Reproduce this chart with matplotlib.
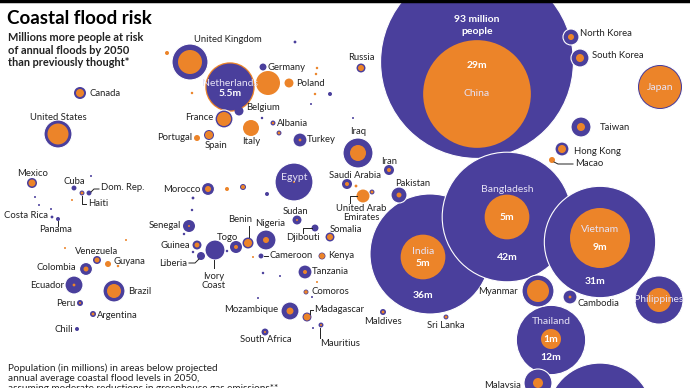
import matplotlib.pyplot as plt
from matplotlib.patches import Circle
import numpy as np

plt.rcParams['font.family'] = ['Lato', 'DejaVu Sans']

PURPLE = '#4a3f9c'
ORANGE = '#ec8429'
TEXT = '#222222'

# bubble layout (cartogram position in px) and values in millions of people
countries = ['China', 'India', 'Bangladesh', 'Vietnam', 'Thailand', 'Myanmar', 'Cambodia',
             'Philippines', 'Malaysia', 'Indonesia', 'Japan', 'North Korea', 'South Korea',
             'Taiwan', 'Hong Kong', 'Macao', 'Maldives', 'Sri Lanka',
             'United Kingdom', 'Netherlands', 'France', 'Germany', '', 'Poland', 'Belgium',
             'Albania', 'Italy', 'Portugal', 'Spain', 'Turkey', 'Russia', 'Canada',
             'United States', '', '', '', '', '', '', '', '', '', '', '',
             'Iraq', 'Egypt', 'Sudan', 'Saudi Arabia', '', 'UAE', '', 'Iran', 'Pakistan',
             'Somalia', 'Djibouti', 'Kenya', 'Cameroon', '', 'Tanzania', '', '', '', '', '',
             '', 'Comoros', 'Mozambique', 'Madagascar', 'Mauritius', 'South Africa',
             'Morocco', '', '', '', '', '', 'Senegal', '', 'Guinea', 'Ivory Coast', 'Liberia',
             '', 'Togo', 'Benin', 'Nigeria', '',
             'Mexico', 'Cuba', 'Haiti', 'Dom. Rep.', '', '', '', '', '', '', '',
             'Costa Rica', 'Panama', 'Venezuela', 'Guyana', '', 'Colombia', 'Ecuador',
             'Brazil', 'Peru', 'Argentina', 'Chili']
pos_x = [477, 430, 507, 600, 551, 538, 570,
         659, 538, 600, 660, 571, 580,
         581, 562, 552, 383, 446,
         190, 230, 224, 263, 268, 289, 239,
         273, 251, 197, 209, 300, 361, 80,
         58, 167, 192, 295, 317, 316, 315, 330, 311, 353, 262, 279,
         358, 294, 297, 347, 356, 363, 372, 389, 399,
         330, 315, 322, 261, 253, 305, 263, 280, 317, 258, 313,
         312, 306, 290, 307, 321, 265,
         208, 227, 243, 267, 193, 192, 189, 184, 197, 215, 201,
         193, 236, 248, 266, 227,
         32, 74, 82, 89, 91, 35, 39, 51, 72, 126, 65,
         52, 58, 97, 108, 118, 86, 74,
         114, 80, 93, 77]
pos_y = [62, 254, 217, 242, 340, 291, 297,
         300, 383, 416, 87, 37, 58,
         127, 149, 160, 312, 317,
         62, 87, 119, 67, 83, 83, 111,
         123, 128, 138, 135, 140, 68, 93,
         134, 53, 93, 42, 68, 74, 94, 94, 104, 118, 118, 133,
         153, 182, 220, 184, 186, 196, 192, 170, 195,
         237, 228, 256, 256, 257, 272, 273, 276, 282, 298, 328,
         297, 292, 311, 317, 325, 332,
         189, 189, 187, 194, 198, 210, 226, 234, 245, 250, 256,
         252, 247, 243, 240, 251,
         183, 188, 193, 193, 176, 197, 205, 209, 200, 240, 248,
         217, 219, 260, 264, 266, 269, 285,
         291, 303, 314, 329]
# total population at risk (new estimate, purple)
pop_new = [93, 36, 42, 31, 12, 2.56, 0.49,
           5.8, 1.96, 28, 5.1, 0.64, 0.81,
           1.0, 0.49, 0, 0.09, 0.06,
           3.24, 5.5, 0.81, 0.12, 0, 0, 0.2,
           0.06, 0, 0, 0.25, 0.49, 0.2, 0.36,
           1.96, 0, 0, 0.02, 0, 0, 0, 0.04, 0.01, 0.01, 0.015, 0.06,
           2.25, 3.6, 0.2, 0.25, 0, 0, 0.06, 0.25, 0.64,
           0.2, 0.12, 0.12, 0.06, 0, 0.49, 0.015, 0.01, 0, 0.01, 0.01,
           0.01, 0.06, 0.81, 0.2, 0.06, 0.12,
           0.42, 0, 0.09, 0.04, 0.02, 0.015, 0.36, 0.015, 0.2, 1.0, 0.16,
           0.015, 0.36, 0.3, 1.0, 0.015,
           0.25, 0.06, 0.06, 0.06, 0.01, 0.01, 0.01, 0.01, 0, 0, 0,
           0.02, 0.04, 0.16, 0, 0, 0.42, 0.81,
           1.21, 0.09, 0.09, 0.04]
# earlier estimate (orange)
pop_old = [29, 5, 5, 9, 1, 1.21, 0.02,
           1.44, 0.25, 5, 4.4, 0.09, 0.16,
           0.16, 0.16, 0.09, 0.02, 0.02,
           1.44, 6.1, 0.49, 0, 1.44, 0.2, 0,
           0.015, 0.64, 0.09, 0.16, 0.02, 0.09, 0.16,
           1.1, 0.04, 0.015, 0, 0.015, 0.015, 0.015, 0, 0, 0, 0, 0.02,
           0.64, 0.01, 0.01, 0.04, 0.02, 0.42, 0.02, 0.04, 0.06,
           0.09, 0, 0.08, 0, 0.01, 0.04, 0, 0, 0.01, 0, 0,
           0, 0.03, 0.12, 0.12, 0.01, 0.01,
           0.09, 0.04, 0.04, 0, 0, 0, 0.01, 0, 0.06, 0, 0,
           0, 0.04, 0.16, 0.09, 0,
           0.12, 0, 0.02, 0, 0, 0, 0, 0, 0.01, 0.01, 0.01,
           0, 0, 0.06, 0.09, 0.015, 0.06, 0.02,
           0.49, 0.01, 0.02, 0]
# orange circle shifted inside the big bubbles
old_shift = {'China': (0, 32), 'India': (-7, 3), 'Vietnam': (0, -4), 'Thailand': (0, -1)}

SCALE = 10.0  # px per sqrt(million)

labels = [('United Kingdom', 228, 40, 'center'), ('Germany', 268, 67, 'left'),
          ('Poland', 296, 83, 'left'), ('Russia', 361, 58, 'center'),
          ('Canada', 89, 93, 'left'), ('United States', 58, 117, 'center'),
          ('France', 213, 117, 'right'), ('Belgium', 246, 108, 'left'),
          ('Albania', 277, 123, 'left'), ('Portugal', 192, 138, 'right'),
          ('Spain', 216, 145, 'center'), ('Italy', 251, 142, 'center'),
          ('Turkey', 307, 139, 'left'), ('Iraq', 358, 131, 'center'),
          ('Iran', 389, 162, 'center'), ('Saudi Arabia', 355, 176, 'center'),
          ('Pakistan', 413, 183, 'center'), ('United Arab\nEmirates', 361, 213, 'center'),
          ('Sudan', 295, 211, 'center'), ('Somalia', 346, 229, 'center'),
          ('Djibouti', 303, 238, 'center'), ('Kenya', 328, 256, 'left'),
          ('Cameroon', 270, 256, 'left'), ('Tanzania', 312, 272, 'left'),
          ('Comoros', 312, 291, 'left'), ('Madagascar', 314, 309, 'left'),
          ('Mozambique', 278, 310, 'right'), ('Mauritius', 320, 343, 'left'),
          ('South Africa', 266, 339, 'center'), ('Maldives', 383, 322, 'center'),
          ('Sri Lanka', 446, 325, 'center'), ('Morocco', 200, 189, 'right'),
          ('Senegal', 181, 226, 'right'), ('Guinea', 190, 246, 'right'),
          ('Liberia', 187, 263, 'right'), ('Togo', 227, 237, 'center'),
          ('Benin', 240, 220, 'center'), ('Nigeria', 270, 223, 'center'),
          ('Ivory\nCoast', 214, 281, 'center'), ('Mexico', 33, 173, 'center'),
          ('Cuba', 74, 181, 'center'), ('Haiti', 88, 204, 'left'),
          ('Dom. Rep.', 101, 188, 'left'), ('Costa Rica', 48, 216, 'right'),
          ('Panama', 56, 230, 'center'), ('Venezuela', 97, 251, 'center'),
          ('Guyana', 113, 262, 'left'), ('Colombia', 76, 267, 'right'),
          ('Ecuador', 64, 285, 'right'), ('Brazil', 128, 291, 'left'),
          ('Peru', 75, 304, 'right'), ('Argentina', 97, 315, 'left'),
          ('Chili', 73, 329, 'right'), ('North Korea', 580, 34, 'left'),
          ('South Korea', 592, 56, 'left'), ('Taiwan', 600, 127, 'left'),
          ('Hong Kong', 574, 151, 'left'), ('Macao', 575, 164, 'left'),
          ('Myanmar', 518, 292, 'right'), ('Cambodia', 578, 303, 'left'),
          ('Malaysia', 503, 385, 'center')]

# text inside bubbles: (text, x, y, bold)
inner_labels = [('Netherlands', 230, 83, False), ('5.5m', 230, 94, True),
                ('93 million', 477, 19, True), ('people', 477, 31, True),
                ('29m', 477, 65, True), ('China', 477, 93, False),
                ('Bangladesh', 507, 189, False), ('5m', 507, 217, True), ('42m', 507, 257, True),
                ('India', 423, 251, False), ('5m', 423, 263, True), ('36m', 423, 295, True),
                ('Vietnam', 600, 229, False), ('9m', 600, 247, True), ('31m', 595, 282, True),
                ('Thailand', 551, 322, False), ('1m', 551, 339, True), ('12m', 551, 357, True),
                ('Egypt', 294, 177, False), ('Japan', 660, 87, False),
                ('Philippines', 659, 300, False)]

leaders = [[(82, 196), (82, 204), (86, 204)], [(91, 192), (94, 189), (99, 189)],
           [(58, 221), (58, 226)], [(189, 263), (195, 263), (199, 259)],
           [(249, 226), (249, 237)], [(214, 260), (214, 268)], [(264, 256), (268, 256)],
           [(303, 233), (303, 228), (312, 228)], [(350, 203), (350, 196), (357, 196)],
           [(310, 314), (310, 310), (313, 310)], [(320, 328), (320, 338)],
           [(554, 162), (558, 164), (573, 164)]]

fig = plt.figure(figsize=(6.9, 3.88), dpi=100)
ax = fig.add_axes([0, 0, 1, 1])
ax.set_xlim(0, 690)
ax.set_ylim(388, 0)
ax.set_aspect('equal')
ax.axis('off')

for name, x, y, vn, vo in zip(countries, pos_x, pos_y, pop_new, pop_old):
    rn = SCALE * np.sqrt(vn)
    ro = SCALE * np.sqrt(vo)
    dx, dy = old_shift.get(name, (0, 0))
    purple = Circle((x, y), rn, facecolor=PURPLE,
                    edgecolor='white' if rn > 6 else 'none', lw=0.8)
    orange = Circle((x + dx, y + dy), ro, facecolor=ORANGE, edgecolor='none')
    if ro > rn:
        ax.add_patch(orange)
        if rn > 0:
            ax.add_patch(Circle((x, y), rn, facecolor=PURPLE, edgecolor='none'))
    else:
        if rn > 0:
            ax.add_patch(purple)
        if ro > 0:
            ax.add_patch(orange)

for txt, x, y, ha in labels:
    ax.text(x, y, txt, ha=ha, va='center', fontsize=6.8, color=TEXT,
            linespacing=1.1)

for txt, x, y, bold in inner_labels:
    ax.text(x, y, txt, ha='center', va='center', color='white' if bold else '#e6e2f5',
            fontsize=7.5, fontweight='bold' if bold else 'normal')

for pts in leaders:
    xs, ys = zip(*pts)
    ax.plot(xs, ys, color=TEXT, lw=0.7)

ax.plot([0, 690], [0.8, 0.8], color='black', lw=2.5)

ax.text(7, 18, 'Coastal flood risk', fontsize=13.5, fontweight='bold', color='black',
        va='center')
ax.text(8, 50, 'Millions more people at risk\nof annual floods by 2050\nthan previously thought*',
        fontsize=7.9, fontweight='bold', color=TEXT, va='center', linespacing=1.13)
ax.text(8, 378, 'Population (in millions) in areas below projected\n'
        'annual average coastal flood levels in 2050,\n'
        'assuming moderate reductions in greenhouse gas emissions**',
        fontsize=7.2, color=TEXT, va='center', linespacing=1.15)

fig.savefig('out.png', dpi=100)
